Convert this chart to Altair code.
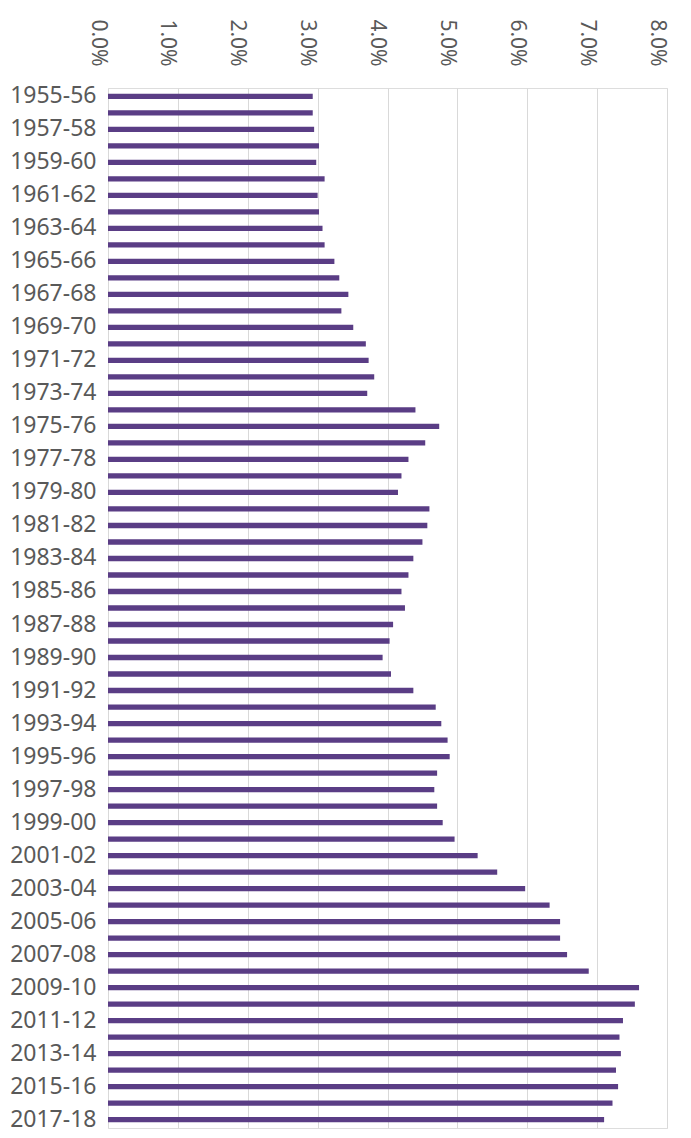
import altair as alt
import pandas as pd

years = [
    "1955-56", "1956-57", "1957-58", "1958-59", "1959-60", "1960-61", "1961-62",
    "1962-63", "1963-64", "1964-65", "1965-66", "1966-67", "1967-68", "1968-69",
    "1969-70", "1970-71", "1971-72", "1972-73", "1973-74", "1974-75", "1975-76",
    "1976-77", "1977-78", "1978-79", "1979-80", "1980-81", "1981-82", "1982-83",
    "1983-84", "1984-85", "1985-86", "1986-87", "1987-88", "1988-89", "1989-90",
    "1990-91", "1991-92", "1992-93", "1993-94", "1994-95", "1995-96", "1996-97",
    "1997-98", "1998-99", "1999-00", "2000-01", "2001-02", "2002-03", "2003-04",
    "2004-05", "2005-06", "2006-07", "2007-08", "2008-09", "2009-10", "2010-11",
    "2011-12", "2012-13", "2013-14", "2014-15", "2015-16", "2016-17", "2017-18",
]

values_pct = [
    2.93, 2.93, 2.95, 3.02, 2.98, 3.10, 3.00,
    3.02, 3.07, 3.10, 3.24, 3.31, 3.44, 3.34,
    3.51, 3.69, 3.73, 3.81, 3.71, 4.40, 4.74,
    4.54, 4.30, 4.20, 4.15, 4.60, 4.57, 4.50,
    4.37, 4.30, 4.20, 4.25, 4.08, 4.03, 3.93,
    4.05, 4.37, 4.69, 4.77, 4.86, 4.89, 4.71,
    4.67, 4.71, 4.79, 4.96, 5.29, 5.57, 5.97,
    6.32, 6.47, 6.47, 6.57, 6.88, 7.60, 7.54,
    7.37, 7.32, 7.34, 7.27, 7.30, 7.22, 7.10,
]

x_ticks = [0.0, 0.01, 0.02, 0.03, 0.04, 0.05, 0.06, 0.07, 0.08]
label_years = years[::2]

df = pd.DataFrame({"year": years, "share": [v / 100 for v in values_pct]})

chart = (
    alt.Chart(df)
    .mark_bar(color="#5a3d85")
    .encode(
        y=alt.Y(
            "year:N",
            sort=None,
            scale=alt.Scale(paddingInner=0.68, paddingOuter=0.35),
            axis=alt.Axis(
                values=label_years,
                ticks=False,
                domain=False,
                grid=False,
                labelFont="Noto Sans",
                labelFontSize=23,
                labelColor="#595959",
                labelPadding=12,
                labelOverlap=False,
                title=None,
            ),
        ),
        x=alt.X(
            "share:Q",
            scale=alt.Scale(domain=[0, 0.08], nice=False),
            axis=alt.Axis(
                orient="top",
                format=".1%",
                values=x_ticks,
                labelAngle=90,
                labelAlign="right",
                labelBaseline="top",
                labelFont="Noto Sans",
                labelFontSize=21,
                labelColor="#595959",
                labelPadding=22,
                grid=True,
                gridColor="#d9d9d9",
                gridWidth=1,
                domain=False,
                ticks=False,
                title=None,
            ),
        ),
    )
    .properties(
        width=559,
        height=1040,
        padding={"left": 100, "top": 80, "right": 12, "bottom": 8},
        autosize="none",
    )
    .configure_view(strokeOpacity=0, strokeWidth=0)
    .configure_axis(domain=False, domainOpacity=0)
    .configure(background="white")
)

chart.save("out.html", embed_options={"renderer": "svg", "actions": False})
